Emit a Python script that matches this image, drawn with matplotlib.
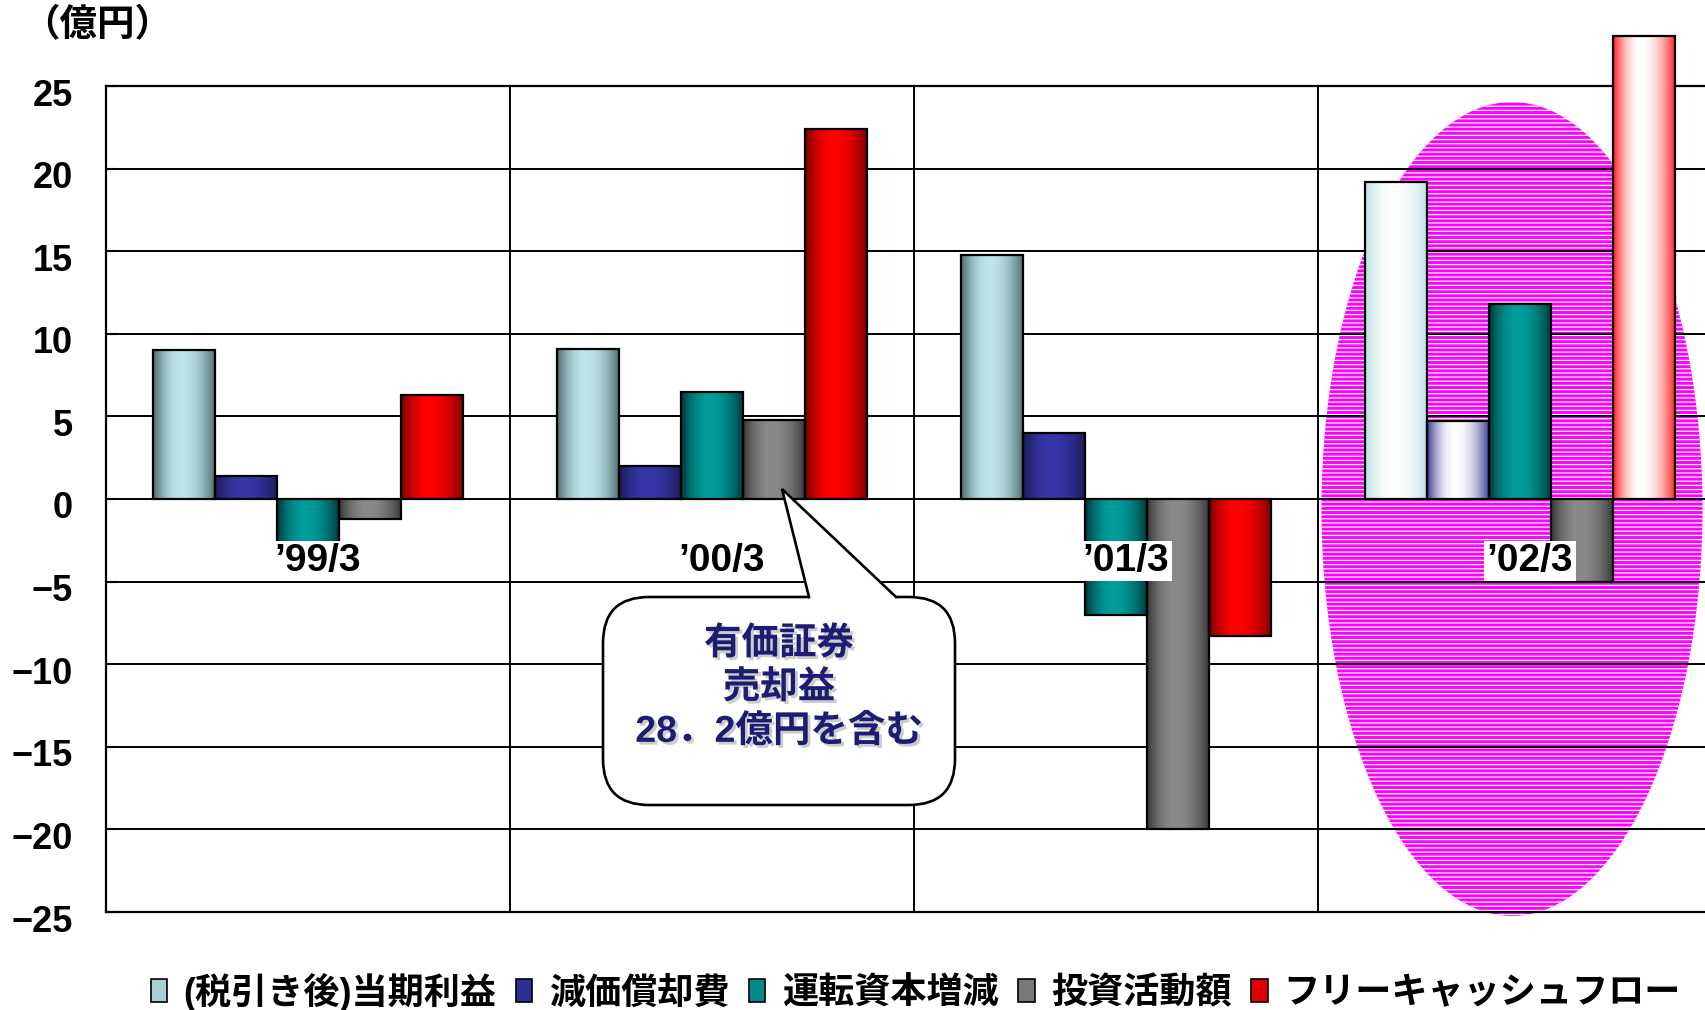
import numpy as np
import matplotlib
matplotlib.use("Agg")
import matplotlib.pyplot as plt
import matplotlib.patheffects as pe
from matplotlib.colors import to_rgb
from matplotlib.patches import Ellipse, FancyBboxPatch, Polygon, Patch
from matplotlib.lines import Line2D
from matplotlib.transforms import Affine2D, ScaledTranslation

W, H, DPI = 1706, 1010, 100

# data (億円)
categories = ["’99/3", "’00/3", "’01/3", "’02/3"]
series_names = ["(税引き後)当期利益", "減価償却費", "運転資本増減", "投資活動額",
                "フリーキャッシュフロー"]
net_income = [9.0, 9.1, 14.8, 19.2]
depreciation = [1.4, 2.0, 4.0, 4.7]
working_capital = [-2.7, 6.5, -7.0, 11.8]
investment = [-1.2, 4.8, -20.0, -5.0]
free_cash_flow = [6.3, 22.4, -8.3, 28.0]
y_ticks = [-25, -20, -15, -10, -5, 0, 5, 10, 15, 20, 25]
y_tick_labels = ["−25", "−20", "−15", "−10", "−5", "0", "5", "10", "15", "20", "25"]
unit_label = "（億円）"
callout_lines = ["有価証券", "売却益", "28．2億円を含む"]

# styling: (edge colour, centre colour) of the cylinder-like gradient
normal_grad = [("#4c686a", "#bde6ea"), ("#1a1a56", "#3636a8"), ("#003636", "#009c9c"),
               ("#363636", "#8a8a8a"), ("#740000", "#ff0000")]
highlight_grad = [("#bcdfe2", "#ffffff"), ("#3c3c94", "#ffffff"), None, None,
                  ("#ff1c1c", "#ffffff")]
legend_colors = ["#a6d0d4", "#2e2e96", "#008a8a", "#787878", "#e00000"]

plt.rcParams["font.family"] = ["Liberation Sans", "Noto Sans CJK JP", "DejaVu Sans"]
plt.rcParams["font.weight"] = "bold"
plt.rcParams["hatch.linewidth"] = 0.9


def gradient(edge, mid, n=120, peak=0.45):
    t = np.linspace(0, 1, n)
    d = np.where(t < peak, (peak - t) / peak, (t - peak) / (1 - peak))
    k = 1 - d ** 2
    e, m = np.array(to_rgb(edge)), np.array(to_rgb(mid))
    return (e + (m - e) * k[:, None])[None, :, :]


fig = plt.figure(figsize=(W / DPI, H / DPI), dpi=DPI)
fig.patch.set_facecolor("white")
ax = fig.add_axes([106 / W, 98 / H, 1616 / W, 826 / H])

# pixel coordinates measured from the top-left of the figure
pix = Affine2D().scale(1 / W, -1 / H).translate(0, 1) + fig.transFigure

# striped highlight ellipse behind the '02/3 group
ell = Ellipse((1512, 509), 381, 814, transform=pix, facecolor="#ff00ff",
              edgecolor="white", hatch="----", linewidth=0, zorder=0.3, clip_on=False)
ax.add_patch(ell)

values = [net_income, depreciation, working_capital, investment, free_cash_flow]
n_series = len(values)
w = 1 / (n_series + 1.5)
x = np.arange(len(categories)) + 0.5
for j, vals in enumerate(values):
    pos = x + (j - (n_series - 1) / 2) * w
    bars = ax.bar(pos, vals, width=w, facecolor="none", edgecolor="black",
                  linewidth=1.6, zorder=4, clip_on=False)
    for i, rect in enumerate(bars):
        grad = normal_grad[j]
        if i == len(categories) - 1 and highlight_grad[j] is not None:
            grad = highlight_grad[j]
        x0, y0 = rect.get_x(), rect.get_y()
        im = ax.imshow(gradient(*grad), extent=[x0, x0 + rect.get_width(), y0, y0 + rect.get_height()],
                       aspect="auto", interpolation="bilinear", zorder=3)
        im.set_clip_on(False)

ax.set_xlim(0, len(categories))
ax.set_ylim(y_ticks[0], y_ticks[-1])

# grid / frame
ax.set_yticks(y_ticks, y_tick_labels)
ax.set_xticks(np.arange(1, len(categories)))
ax.set_axisbelow(True)
ax.grid(True, color="black", linewidth=1.4)
ax.tick_params(axis="x", length=0, labelbottom=False)
ax.tick_params(axis="y", direction="in", length=8, width=1.5, pad=24, labelsize=26)
shift = ScaledTranslation(0, -0.06, fig.dpi_scale_trans)
for lbl in ax.get_yticklabels():
    lbl.set_transform(lbl.get_transform() + shift)
for side in ["left", "top", "bottom"]:
    ax.spines[side].set_color("black")
    ax.spines[side].set_linewidth(1.6)
ax.spines["right"].set_visible(False)

# category labels sit under the zero line with a white box
for xc, lab in zip(x, categories):
    ax.annotate(lab, xy=(xc, 0), xytext=(10, -62), textcoords="offset pixels",
                ha="center", va="center", fontsize=28, zorder=6,
                bbox=dict(boxstyle="square,pad=0.06", facecolor="white", edgecolor="none"))

# callout
box = FancyBboxPatch((603, 597), 352, 208, boxstyle="round,pad=0,rounding_size=46",
                     transform=pix, facecolor="white", edgecolor="black", linewidth=1.9,
                     zorder=7, clip_on=False)
ax.add_patch(box)
ax.add_patch(Polygon([(809, 597), (782, 489), (896, 597), (896, 603), (809, 603)],
                     closed=True, transform=pix, facecolor="white", edgecolor="none",
                     zorder=7.5, clip_on=False))
ax.add_line(Line2D([809, 782, 896], [597, 489, 597], transform=pix, color="black",
                   linewidth=1.9, zorder=7.6, clip_on=False, solid_joinstyle="miter"))
ax.text(779, 688, "\n".join(callout_lines), transform=pix, ha="center", va="center",
        fontsize=27, color="#1c1c72", linespacing=1.28, zorder=8,
        path_effects=[pe.withSimplePatchShadow(offset=(2, -2), shadow_rgbFace="#9a9a9a",
                                               alpha=0.5)])

fig.text(97, 26, unit_label, transform=pix, ha="center", va="center", fontsize=27)

handles = [Patch(facecolor=c, edgecolor="black", linewidth=1.2) for c in legend_colors]
fig.legend(handles, series_names, loc="center", bbox_to_anchor=(916 / W, 1 - 992 / H),
           ncol=5, frameon=False, fontsize=26, handlelength=0.45, handleheight=0.6,
           handletextpad=0.45, columnspacing=0.55, borderaxespad=0, borderpad=0)

fig.savefig("out.png", dpi=DPI, facecolor="white")
